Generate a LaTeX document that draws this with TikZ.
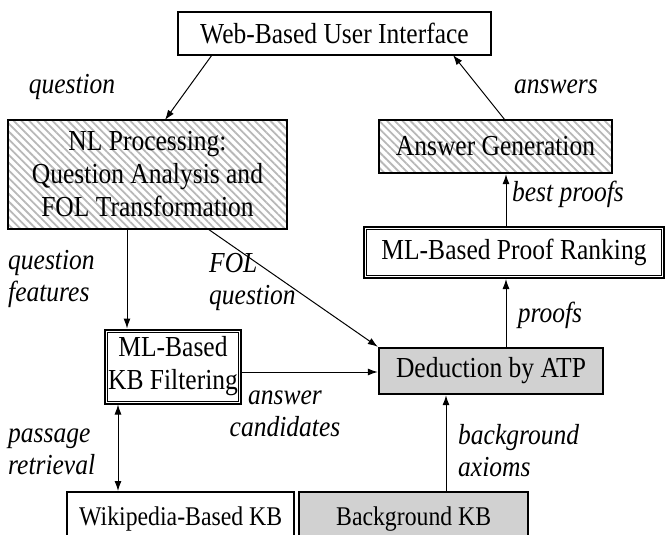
\documentclass[tikz,border=0pt]{standalone}
\usepackage{fontspec}
\setmainfont{Liberation Serif}[FakeStretch=0.88]
\usetikzlibrary{arrows.meta,patterns.meta}
\definecolor{boxgray}{gray}{0.82}
\definecolor{hatchgray}{gray}{0.72}
\begin{document}
\begin{tikzpicture}[x=1pt,y=-1pt,
  every node/.style={font=\fontsize{29}{33}\selectfont},
  box/.style={draw,line width=2.4pt,inner sep=0pt,align=center},
  hatched/.style={box,pattern={Lines[angle=-45,distance=5.5pt,line width=1.8pt]},pattern color=hatchgray},
  shaded/.style={box,fill=boxgray},
  dblbox/.style={draw,line width=2pt,inner sep=0pt,align=center},
  inner/.style={line width=0.9pt},
  conn/.style={line width=1pt,-{Latex[length=10pt,width=7pt]}},
  lab/.style={font=\itshape\fontsize{29}{32}\selectfont,align=left,inner sep=0pt},
  small/.style={font=\fontsize{27}{33}\selectfont}
]
\useasboundingbox (0,0) rectangle (665,535);

% boxes
\node[box,minimum width=313pt,minimum height=43pt] (ui) at (334.5,33.5) {Web-Based User Interface};
\node[hatched,minimum width=279pt,minimum height=109pt] (nl) at (147.5,174.5) {NL Processing:\\Question Analysis and\\FOL Transformation};
\node[hatched,minimum width=233pt,minimum height=53pt] (ag) at (495.5,146.5) {Answer Generation};
\node[dblbox,minimum width=300pt,minimum height=51pt] (rank) at (514,252.5) {ML-Based Proof Ranking};
\node[dblbox,minimum width=136pt,minimum height=74pt] (kbf) at (173,366.5) {ML-Based\\KB Filtering};
\node[shaded,minimum width=224pt,minimum height=46pt] (atp) at (491,371) {Deduction by ATP};
\node[box,small,minimum width=227pt,minimum height=54pt,anchor=north west] (wiki) at (66,491) {Wikipedia-Based KB};
\node[shaded,small,minimum width=229pt,minimum height=54pt,anchor=north west] (bkb) at (298,491) {Background KB};

% inner lines of the double-bordered boxes
\foreach \n in {rank,kbf}
  \draw[inner] ([xshift=3.5pt,yshift=-3.5pt]\n.north west) rectangle ([xshift=-3.5pt,yshift=3.5pt]\n.south east);

% connectors
\coordinate (uiq) at (212,55);
\coordinate (nlq) at (165,120);
\draw[conn] (uiq) -- (nlq);
\coordinate (aga) at (505,120);
\coordinate (uia) at (453,55);
\draw[conn] (aga) -- (uia);
\draw[conn] (rank.north -| 506,0) -- (ag.south -| 506,0);
\draw[conn] (atp.north -| 506,0) -- (rank.south -| 506,0);
\draw[conn] (nl.south -| 127,0) -- (kbf.north -| 127,0);
\coordinate (nlf) at (208,229);
\draw[conn] (nlf) -- (atp.north west);
\draw[conn] (kbf.east |- 0,372) -- (atp.west |- 0,372);
\draw[line width=1pt,{Latex[length=10pt,width=7pt]}-{Latex[length=10pt,width=7pt]}] (kbf.south -| 118,0) -- (wiki.north -| 118,0);
\draw[conn] (bkb.north -| 446,0) -- (atp.south -| 446,0);

% connector labels
\node[lab] (lq) at (72,87) {question};
\node[lab] (la) at (556,87) {answers};
\node[lab] (lbp) at (568,194) {best proofs};
\node[lab,anchor=west] (lqf) at (8,279) {question\\features};
\node[lab,anchor=west] (lfq) at (209,282) {FOL\\question};
\node[lab] (lp) at (550,315) {proofs};
\node[lab,align=center] (lac) at (285,414) {answer\\candidates};
\node[lab,anchor=west] (lpr) at (8,452) {passage\\retrieval};
\node[lab,anchor=west] (lba) at (458,451) {background\\axioms};
\end{tikzpicture}
\end{document}
